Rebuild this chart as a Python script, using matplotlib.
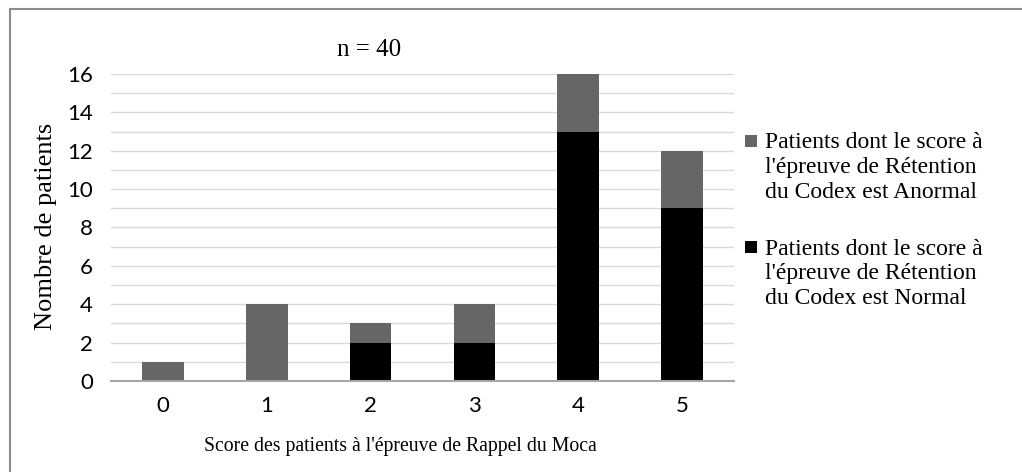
import matplotlib
matplotlib.use("Agg")
import matplotlib.pyplot as plt
from matplotlib.patches import Rectangle
import numpy as np

categories = ["0", "1", "2", "3", "4", "5"]
normal = [0, 0, 2, 2, 13, 9]
anormal = [1, 4, 1, 2, 3, 3]
label_anormal = ["Patients dont le score à", "l'épreuve de Rétention", "du Codex est Anormal"]
label_normal = ["Patients dont le score à", "l'épreuve de Rétention", "du Codex est Normal"]
title = "n = 40"
xlabel = "Score des patients à l'épreuve de Rappel du Moca"
ylabel = "Nombre de patients"

col_normal = "#000000"
col_anormal = "#666666"
serif = ["Liberation Serif", "DejaVu Serif"]
sans = ["Lato", "Open Sans", "DejaVu Sans"]

W, H = 1022, 472
fig = plt.figure(figsize=(W / 100, H / 100), dpi=100)
fig.patch.set_facecolor("white")
# outer border (only left/top visible)
fig.patches.append(Rectangle((9.5 / W, -0.1), 1.2, 1 - 8.5 / H + 0.1, transform=fig.transFigure,
                             fill=False, edgecolor="#8c8c8c", linewidth=1.5))

ax = fig.add_axes([111 / W, 1 - 381 / H, (734 - 111) / W, (381 - 74) / H])
x = np.arange(len(categories))
w = 0.4
ax.bar(x, normal, w, color=col_normal, zorder=3)
ax.bar(x, anormal, w, bottom=normal, color=col_anormal, zorder=3)

ax.set_xlim(-0.5, len(categories) - 0.5)
ax.set_ylim(0, 16)
ax.set_yticks(range(0, 17, 2))
ax.set_yticks(range(0, 17), minor=True)
ax.grid(axis="y", which="both", color="#d9d9d9", linewidth=1.0, zorder=0)
ax.set_xticks(x)
ax.set_xticklabels(categories)
for s in ["top", "right", "left"]:
    ax.spines[s].set_visible(False)
ax.spines["bottom"].set_color("#a6a6a6")
ax.spines["bottom"].set_linewidth(1.5)
ax.spines["bottom"].set_zorder(4)
ax.tick_params(axis="both", which="both", length=0)
ax.tick_params(axis="y", pad=13)
ax.tick_params(axis="x", pad=11)
for t in ax.get_xticklabels() + ax.get_yticklabels():
    t.set_fontfamily(sans)
    t.set_fontsize(16)

fig.text(369 / W, 1 - 50 / H, title, ha="center", va="center", family=serif, fontsize=18)
fig.text(400 / W, 1 - 446 / H, xlabel, ha="center", va="center", family=serif, fontsize=14.2)
fig.text(46 / W, 1 - 226 / H, ylabel, ha="center", va="center", rotation=90, family=serif, fontsize=19)

# legend drawn manually
def legend_entry(y_square, y_lines, color, lines):
    fig.patches.append(Rectangle((745 / W, 1 - (y_square + 6) / H), 12 / W, 12 / H,
                                 transform=fig.transFigure, facecolor=color, edgecolor="none"))
    for yy, txt in zip(y_lines, lines):
        fig.text(765 / W, 1 - yy / H, txt, ha="left", va="center", family=serif, fontsize=17)

legend_entry(141, [143, 168, 193], col_anormal, label_anormal)
legend_entry(247, [249, 274, 299], col_normal, label_normal)

fig.savefig("out.png", dpi=100)
